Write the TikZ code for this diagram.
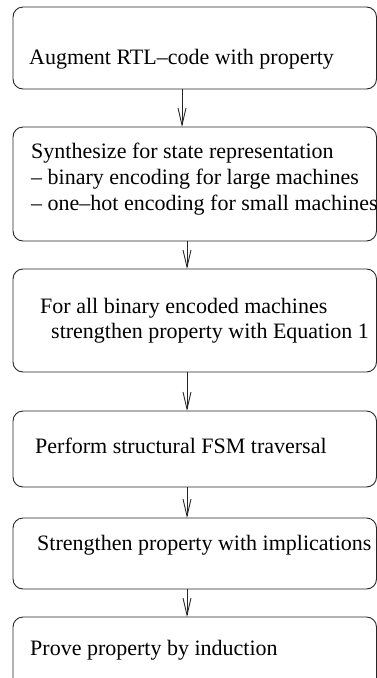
\documentclass[tikz,border=0pt]{standalone}
\usepackage{fontspec}
\setmainfont{Liberation Serif}
\newfontfamily\stepfont{Liberation Serif}
\usetikzlibrary{arrows.meta}
\begin{document}
\begin{tikzpicture}[x=1pt,y=-1pt,
  box/.style={draw=black!85,line width=0.9pt,rounded corners=10pt,
    rectangle,inner sep=0pt,outer sep=0pt,minimum width=363.5pt,anchor=north west},
  txt/.style={anchor=base west,inner sep=0pt,font=\stepfont\fontsize{22}{26}\selectfont},
  flow/.style={draw=black!85,line width=0.9pt,-{Straight Barb[length=17pt,width=8pt,line width=0.9pt]}}]
\useasboundingbox (0,0) rectangle (377,678);
\clip (0,0) rectangle (377,678);

% process steps
\node[box,minimum height=82pt]  (b1) at (13,7)   {};
\node[box,minimum height=114pt] (b2) at (13,127) {};
\node[box,minimum height=103pt] (b3) at (13,269) {};
\node[box,minimum height=76pt]  (b4) at (13,411) {};
\node[box,minimum height=71pt]  (b5) at (13,518) {};
\node[box,minimum height=83pt]  (b6) at (13,617) {};

% step labels
\node[txt] (t1)  at (29,64)  {Augment RTL–code with property};
\node[txt] (t2a) at (31,158) {Synthesize for state representation};
\node[txt] (t2b) at (31,184) {– binary encoding for large machines};
\node[txt] (t2c) at (31,210) {– one–hot encoding for small machines};
\node[txt] (t3a) at (40,313) {For all binary encoded machines};
\node[txt] (t3b) at (51,338) {strengthen property with Equation 1};
\node[txt] (t4)  at (35,453) {Perform structural FSM traversal};
\node[txt] (t5)  at (37,550) {Strengthen property with implications};
\node[txt] (t6)  at (30,655) {Prove property by induction};

% connector columns
\coordinate (c1) at (182,0);
\coordinate (c2) at (187,0);

\draw[flow] (b1.south -| c1) -- (b2.north -| c1);
\draw[flow] (b2.south -| c2) -- (b3.north -| c2);
\draw[flow] (b3.south -| c2) -- (b4.north -| c2);
\draw[flow] (b4.south -| c2) -- (b5.north -| c2);
\draw[flow] (b5.south -| c2) -- (b6.north -| c2);
\end{tikzpicture}
\end{document}
